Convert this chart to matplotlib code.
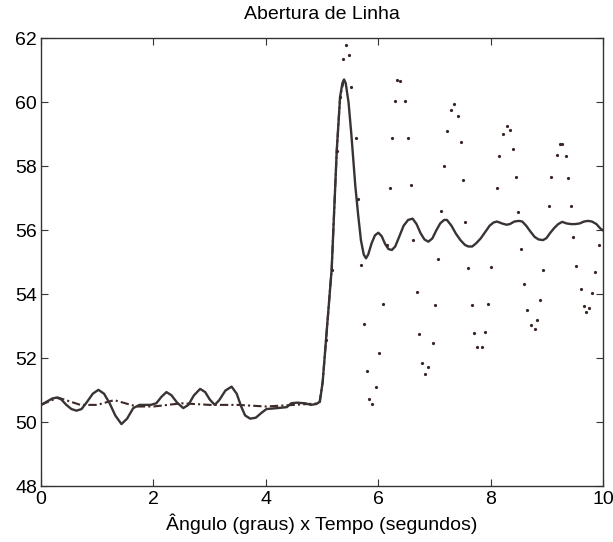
import matplotlib
matplotlib.use('Agg')
import matplotlib.pyplot as plt

# solid line (oscillating response)
LINE_X = [0.0, 0.1, 0.2, 0.28, 0.36, 0.45, 0.54, 0.63, 0.72, 0.82, 0.92, 1.02, 1.12, 1.22,
          1.32, 1.43, 1.53, 1.64, 1.75, 1.85, 1.95, 2.05, 2.14, 2.23, 2.32, 2.42, 2.53, 2.62,
          2.72, 2.83, 2.92, 3.0, 3.09, 3.17, 3.28, 3.39, 3.48, 3.56, 3.63, 3.72, 3.82, 3.92,
          4.01, 4.2, 4.37, 4.45, 4.55, 4.7, 4.8, 4.9, 4.96,
          5.01, 5.07, 5.17, 5.26, 5.32, 5.36, 5.39, 5.42, 5.47, 5.52, 5.59, 5.64, 5.69, 5.74,
          5.78, 5.82, 5.88, 5.94, 6.0, 6.06, 6.12, 6.18, 6.24, 6.3, 6.37, 6.45, 6.53, 6.61,
          6.68, 6.75, 6.82, 6.89, 6.96, 7.03, 7.1, 7.17, 7.22, 7.3, 7.38, 7.46, 7.54, 7.6,
          7.67, 7.74, 7.82, 7.9, 7.98, 8.05, 8.11, 8.2, 8.28, 8.34, 8.42, 8.5, 8.56, 8.63,
          8.7, 8.78, 8.85, 8.93, 8.99, 9.06, 9.13, 9.2, 9.27, 9.35, 9.43, 9.5, 9.58, 9.66,
          9.73, 9.8, 9.88, 9.95, 10.0]
LINE_Y = [50.55, 50.65, 50.75, 50.78, 50.72, 50.55, 50.42, 50.37, 50.42, 50.65, 50.9, 51.02, 50.9, 50.6,
          50.22, 49.95, 50.12, 50.45, 50.55, 50.55, 50.55, 50.6, 50.8, 50.95, 50.85, 50.62, 50.45, 50.55,
          50.85, 51.05, 50.95, 50.72, 50.55, 50.7, 51.0, 51.12, 50.9, 50.5, 50.22, 50.12, 50.15, 50.3,
          50.42, 50.45, 50.48, 50.6, 50.62, 50.6, 50.55, 50.58, 50.65,
          51.27, 52.6, 54.8, 58.49, 60.18, 60.6, 60.72, 60.6, 60.0, 59.0, 57.4, 56.5, 55.7, 55.25,
          55.13, 55.25, 55.6, 55.85, 55.93, 55.82, 55.58, 55.42, 55.39, 55.5, 55.8, 56.15, 56.33, 56.37,
          56.2, 55.92, 55.72, 55.65, 55.75, 56.0, 56.22, 56.33, 56.33, 56.15, 55.9, 55.7, 55.55, 55.5,
          55.5, 55.6, 55.75, 55.95, 56.15, 56.25, 56.28, 56.22, 56.18, 56.2, 56.28, 56.3, 56.28, 56.15,
          55.98, 55.8, 55.72, 55.7, 55.76, 55.93, 56.08, 56.2, 56.27, 56.22, 56.2, 56.2, 56.22, 56.28,
          56.3, 56.28, 56.2, 56.06, 56.0]

# dashed reference line
REF_X = [0.0, 0.3, 0.7, 1.0, 1.3, 1.7, 2.0, 2.5, 3.0, 3.5, 4.0, 4.5, 4.95, 5.01, 5.07, 5.17,
         5.26, 5.32, 5.39]
REF_Y = [50.55, 50.78, 50.55, 50.55, 50.7, 50.5, 50.5, 50.6, 50.55, 50.55, 50.5, 50.55, 50.6,
         51.27, 52.6, 54.8, 58.49, 60.18, 60.72]

# sampled points (dots)
DOT_X = [5.07, 5.17, 5.26, 5.32, 5.37, 5.43, 5.48, 5.52, 5.60, 5.63, 5.69, 5.75, 5.80, 5.83,
         5.89, 5.95, 6.02, 6.08, 6.15, 6.20, 6.24, 6.30, 6.34, 6.39, 6.48, 6.53, 6.58,
         6.62, 6.68, 6.72, 6.78, 6.83, 6.88, 6.97, 7.01, 7.07, 7.12, 7.17, 7.23, 7.29,
         7.34, 7.41, 7.47, 7.51, 7.55, 7.60, 7.67, 7.71, 7.76, 7.84, 7.89, 7.95, 8.01,
         8.11, 8.15, 8.21, 8.29, 8.34, 8.40, 8.44, 8.49, 8.54, 8.60, 8.65, 8.72, 8.78,
         8.82, 8.87, 8.93, 9.04, 9.08, 9.17, 9.23, 9.27, 9.33, 9.38, 9.43, 9.47, 9.52,
         9.60, 9.65, 9.70, 9.75, 9.80, 9.86, 9.93]
DOT_Y = [52.58, 54.77, 58.49, 60.18, 61.35, 61.81, 61.48, 60.49, 58.89, 56.98, 54.93, 53.07, 51.60, 50.74,
         50.57, 51.11, 52.17, 53.71, 55.55, 57.32, 58.89, 60.04, 60.70, 60.66, 60.04, 58.89, 57.41,
         55.70, 54.07, 52.76, 51.87, 51.51, 51.72, 52.49, 53.67, 55.11, 56.62, 58.00, 59.10, 59.77,
         59.95, 59.58, 58.78, 57.59, 56.27, 54.84, 53.67, 52.81, 52.35, 52.35, 52.84, 53.71, 54.85,
         57.32, 58.32, 59.00, 59.28, 59.14, 58.54, 57.68, 56.59, 55.43, 54.34, 53.53, 53.04, 52.93,
         53.20, 53.84, 54.76, 56.78, 57.68, 58.37, 58.69, 58.69, 58.32, 57.64, 56.78, 55.81, 54.89,
         54.16, 53.63, 53.44, 53.58, 54.04, 54.71, 55.55]

X_TICKS = [0, 2, 4, 6, 8, 10]
Y_TICKS = [48, 50, 52, 54, 56, 58, 60, 62]

plt.rcParams['font.family'] = ['Liberation Sans', 'DejaVu Sans']

fig = plt.figure(figsize=(6.13, 5.42), dpi=100)
ax = fig.add_axes([0.067, 0.1024, 0.917, 0.8266])

ax.plot(REF_X, REF_Y, color='#3e2828', lw=1.5, ls=(0, (4, 1.5, 1, 1.5)))
ax.plot(LINE_X, LINE_Y, color='#3a3333', lw=1.7)
ax.plot(DOT_X, DOT_Y, ls='none', marker='o', ms=2.3, color='#3a2424', mec='none')

ax.set_xlim(0, 10)
ax.set_ylim(48, 62)
ax.set_xticks(X_TICKS)
ax.set_yticks(Y_TICKS)
ax.tick_params(direction='in', length=5, top=True, right=True, labelsize=14, pad=3,
               color='#333')
for s in ax.spines.values():
    s.set_color('#333')
    s.set_linewidth(1.0)

ax.set_title('Abertura de Linha', fontsize=14, pad=14)
ax.set_xlabel('Ângulo (graus) x Tempo (segundos)', fontsize=14, labelpad=4)

fig.savefig('out.png', dpi=100)
